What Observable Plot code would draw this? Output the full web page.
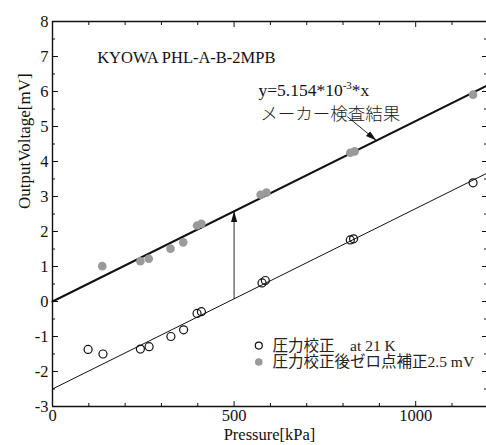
<!DOCTYPE html>
<html>
<head>
<meta charset="utf-8">
<script src="https://cdn.jsdelivr.net/npm/d3@7"></script>
<script src="https://cdn.jsdelivr.net/npm/@observablehq/plot@0.6"></script>
<style>
  html, body { margin: 0; padding: 0; background: #fff; }
  #chart svg { display: block; }
</style>
</head>
<body>
<div id="chart"></div>
<script>
// Pressure calibration of the KYOWA PHL-A-B-2MPB sensor at 21 K
const pressureRaw = [98, 139, 242, 266, 326, 361, 398, 410, 577, 586, 820, 829, 1158];   // kPa
const voltageRaw  = [-1.37, -1.50, -1.36, -1.29, -1.00, -0.81, -0.34, -0.29, 0.53, 0.60, 1.76, 1.79, 3.39]; // mV

// Same runs after the 2.5 mV zero-point correction
const pressureCorr = [137, 242, 265, 325, 360, 398, 410, 573, 589, 820, 832, 1158];
const voltageCorr  = [1.01, 1.15, 1.22, 1.51, 1.69, 2.17, 2.22, 3.05, 3.11, 4.25, 4.29, 5.91];

// Manufacturer inspection result: y = 5.154e-3 * x
const slope = 5.154e-3;
const zeroShift = 2.5;

const xDomain = [0, 1195];
const yDomain = [-3, 8];
const xTicksMajor = [0, 500, 1000];
const xTicksMinor = [100, 200, 300, 400, 600, 700, 800, 900, 1100];
const yTicksMajor = [-3, -2, -1, 0, 1, 2, 3, 4, 5, 6, 7, 8];
const yTicksMinor = [-2.5, -1.5, -0.5, 0.5, 1.5, 2.5, 3.5, 4.5, 5.5, 6.5, 7.5];

const legendLabels = ["圧力校正　at 21 K", "圧力校正後ゼロ点補正2.5 mV"];

const raw = pressureRaw.map((p, i) => ({p, v: voltageRaw[i]}));
const corr = pressureCorr.map((p, i) => ({p, v: voltageCorr[i]}));

const serif = "'Liberation Serif', 'Times New Roman', 'Noto Sans CJK JP', serif";
const GRAY = "#9a9a9a";

// filled triangular arrow head
function solidHead(color, context) {
  const m = d3.create("svg:marker")
    .attr("viewBox", "-11 -3.5 11 7")
    .attr("markerWidth", 11)
    .attr("markerHeight", 7)
    .attr("markerUnits", "userSpaceOnUse")
    .attr("orient", "auto")
    .attr("fill", color)
    .attr("stroke", "none");
  m.append("path").attr("d", "M-11,-3.2L0,0L-11,3.2Z");
  return m.node();
}

const noText = () => "";

const chart = Plot.plot({
  width: 486,
  height: 445,
  marginLeft: 52,
  marginRight: 0,
  marginTop: 21,
  marginBottom: 39,
  x: {domain: xDomain},
  y: {domain: yDomain},
  style: {fontFamily: serif, background: "#fff", color: "#111", overflow: "visible"},
  marks: [
    // frame: left, bottom and top spines
    Plot.ruleX([xDomain[0]], {stroke: "#111", strokeWidth: 1.4}),
    Plot.ruleY([yDomain[0]], {stroke: "#111", strokeWidth: 1.4}),
    Plot.ruleY([yDomain[1]], {stroke: "#111", strokeWidth: 1.4}),

    // inward ticks on all four sides
    Plot.axisX(xTicksMajor, {anchor: "bottom", tickSize: -5, tickFormat: noText, label: null}),
    Plot.axisX(xTicksMinor, {anchor: "bottom", tickSize: -3, tickFormat: noText, label: null}),
    Plot.axisX(xTicksMajor, {anchor: "top", tickSize: -5, tickFormat: noText, label: null}),
    Plot.axisX(xTicksMinor, {anchor: "top", tickSize: -3, tickFormat: noText, label: null}),
    Plot.axisY(yTicksMajor, {anchor: "left", tickSize: -6, tickFormat: noText, label: null}),
    Plot.axisY(yTicksMinor, {anchor: "left", tickSize: -3, tickFormat: noText, label: null}),
    Plot.axisY(yTicksMajor, {anchor: "right", tickSize: -5, tickFormat: noText, label: null}),
    Plot.axisY(yTicksMinor, {anchor: "right", tickSize: -3, tickFormat: noText, label: null}),

    // tick labels
    Plot.axisX(xTicksMajor, {anchor: "bottom", tickSize: 0, tickPadding: 3, fontSize: 16.5, label: null, tickFormat: d => `${d}`}),
    Plot.axisY(yTicksMajor, {anchor: "left", tickSize: 0, tickPadding: 4, fontSize: 16.5, label: null, tickFormat: d => `${d}`}),

    // axis titles
    Plot.text(["Pressure[kPa]"], {frameAnchor: "bottom", dy: 33, fontSize: 16.5, fill: "#111"}),
    Plot.text(["OutputVoltage[mV]"], {frameAnchor: "left", dx: -28, dy: -5, rotate: -90, fontSize: 17, fill: "#111"}),

    // fitted lines
    Plot.line(xDomain, {x: d => d, y: d => slope * d, stroke: "#111", strokeWidth: 2}),
    Plot.line(xDomain, {x: d => d, y: d => slope * d - zeroShift, stroke: "#111", strokeWidth: 1}),

    // zero-point shift arrow
    Plot.link([500], {
      x1: d => d, x2: d => d,
      y1: d => slope * d - zeroShift, y2: d => slope * d,
      stroke: "#111", strokeWidth: 0.9, markerEnd: solidHead
    }),

    // data
    Plot.dot(corr, {x: "p", y: "v", r: 4.3, fill: GRAY, stroke: "none"}),
    Plot.dot(raw, {x: "p", y: "v", r: 4, fill: "none", stroke: "#111", strokeWidth: 1.2}),

    // annotations
    Plot.text(["KYOWA PHL-A-B-2MPB"], {x: 123, y: 6.97, textAnchor: "start", fontSize: 16.5, fill: "#111"}),
    Plot.text(["y=5.154*10^-3*x"], {x: 567, y: 6.03, textAnchor: "start", fontSize: 17.5, fill: "#111", className: "eq"}),
    Plot.text(["メーカー検査結果"], {x: 572, y: 5.34, textAnchor: "start", fontSize: 17.5, fill: "#222",
      fontFamily: "'Noto Sans CJK JP', sans-serif", fontWeight: 300}),
    Plot.link([892], {
      x1: 812, y1: 5.28, x2: d => d, y2: d => slope * d,
      stroke: "#111", strokeWidth: 0.9, markerEnd: solidHead
    }),

    // legend
    Plot.dot([0], {x: 568, y: -1.26, r: 3.5, fill: "none", stroke: "#111", strokeWidth: 1.2}),
    Plot.dot([0], {x: 568, y: -1.73, r: 3.8, fill: GRAY, stroke: "none"}),
    Plot.text([legendLabels[0]], {x: 606, y: -1.26, textAnchor: "start", fontSize: 15.5, fill: "#222"}),
    Plot.text([legendLabels[1]], {x: 606, y: -1.73, textAnchor: "start", fontSize: 15.5, fill: "#222"})
  ]
});

// typeset the exponent of the equation as a superscript
d3.select(chart).selectAll(".eq text").each(function () {
  const t = d3.select(this);
  const s = t.text();
  const m = s.match(/^(.*)\^(-?\d+)(.*)$/);
  if (!m) return;
  t.text(null);
  t.append("tspan").text(m[1]);
  t.append("tspan").attr("dy", "-7px").attr("font-size", "11px").text(m[2]);
  t.append("tspan").attr("dy", "7px").text(m[3]);
});

document.getElementById("chart").appendChild(chart);
</script>
</body>
</html>
